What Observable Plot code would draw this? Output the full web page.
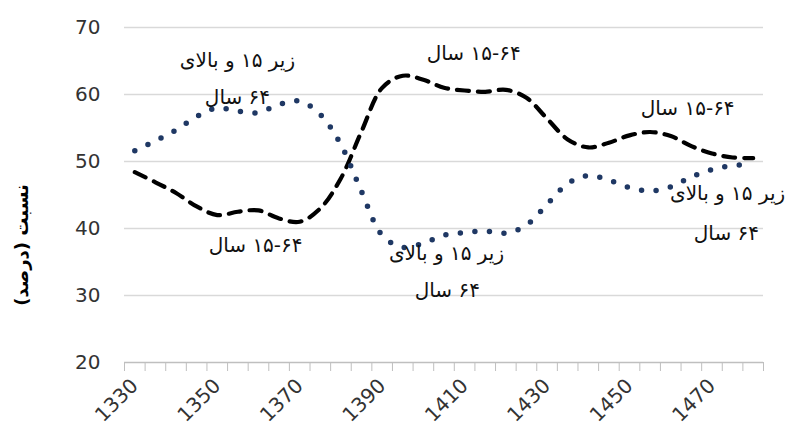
<!DOCTYPE html>
<html>
<head>
<meta charset="utf-8">
<script src="https://cdn.jsdelivr.net/npm/d3@7"></script>
<script src="https://cdn.jsdelivr.net/npm/@observablehq/plot@0.6"></script>
<style>
  html, body { margin: 0; padding: 0; background: #fff; }
  #chart { width: 787px; height: 434px; }
</style>
</head>
<body>
<div id="chart"></div>
<script>
// Categories (years, 5-year steps)
const years = [1330,1335,1340,1345,1350,1355,1360,1365,1370,1375,1380,1385,1390,1395,1400,1405,1410,1415,1420,1425,1430,1435,1440,1445,1450,1455,1460,1465,1470,1475,1480];
// Share of population aged 15-64 (percent)
const working = [48.4,46.9,45.3,43.3,42.0,42.5,42.7,41.5,41.0,43.0,47.5,54.5,61.0,62.8,62.2,61.0,60.6,60.4,60.7,59.5,56.4,53.3,52.1,52.8,53.9,54.4,53.8,52.3,51.2,50.6,50.5];
// Share of population under 15 and over 64 (percent)
const dependent = [51.6,53.1,54.7,56.7,58.0,57.5,57.3,58.5,59.0,57.0,52.5,45.5,39.0,37.2,37.8,39.0,39.4,39.6,39.3,40.5,43.6,46.7,47.9,47.2,46.1,45.6,46.2,47.7,48.8,49.4,49.5];
// Axis ticks and labels
const yTicks = [20,30,40,50,60,70];
const xLabels = [1330,1350,1370,1390,1410,1430,1450,1470];
const yTitle = "نسبت (درصد)";
// Annotation labels: text, anchor year, anchor percent
const labelText = ["زیر ۱۵ و بالای","۶۴ سال","۱۵-۶۴ سال","۱۵-۶۴ سال","زیر ۱۵ و بالای","۶۴ سال","۱۵-۶۴ سال","زیر ۱۵ و بالای","۶۴ سال"];
const labelYear = [1354.9,1354.9,1412.2,1464.1,1473.8,1473.5,1359.3,1405.6,1405.8];
const labelValue = [65.1,59.5,66.1,57.9,45.2,39.3,37.5,36.3,30.8];

const rowsW = years.map((yr, i) => ({year: yr, v: working[i]}));
const rowsD = years.map((yr, i) => ({year: yr, v: dependent[i]}));
const labels = labelText.map((t, i) => ({t, x: labelYear[i], y: labelValue[i]}));
const boundaries = years.map(y => y - 2.5).concat([years[years.length - 1] + 2.5]);

const chart = Plot.plot({
  width: 787,
  height: 434,
  marginLeft: 124,
  marginRight: 24,
  marginTop: 27,
  marginBottom: 72,
  x: {type: "linear", domain: [boundaries[0], boundaries[boundaries.length - 1]]},
  y: {domain: [20, 70]},
  style: {fontFamily: "'DejaVu Sans', sans-serif", fontSize: "20px", color: "#404040", background: "#fff"},
  marks: [
    Plot.gridY(yTicks.filter(d => d > 20), {stroke: "#d9d9d9", strokeOpacity: 1, strokeWidth: 1.3}),
    Plot.axisY({ticks: yTicks, tickSize: 0, tickPadding: 24, label: null, tickFormat: d => String(d), fontSize: 20, fill: "#333"}),
    Plot.ruleY([20], {stroke: "#bfbfbf", strokeWidth: 1.3}),
    Plot.axisX({ticks: boundaries, tickSize: 9, stroke: "#bfbfbf", tickFormat: () => "", label: null}),
    Plot.axisX({ticks: xLabels, tickSize: 0, tickPadding: 20, tickRotate: -45, label: null, tickFormat: d => String(d), fontSize: 20, fill: "#333"}),
    Plot.line(rowsW, {x: "year", y: "v", curve: "catmull-rom", stroke: "#000", strokeWidth: 4.2, strokeDasharray: "12 9", strokeLinecap: "round"}),
    Plot.line(rowsD, {x: "year", y: "v", curve: "catmull-rom", stroke: "#1f3864", strokeWidth: 5.5, strokeDasharray: "0 14.6", strokeLinecap: "round"}),
    Plot.text(labels, {x: "x", y: "y", text: "t", fontFamily: "'DejaVu Sans', sans-serif", fontSize: 20, fill: "#111", textAnchor: "middle"}),
    Plot.text([yTitle], {frameAnchor: "left", dx: -102, dy: 50, rotate: -90, textAnchor: "middle", fontFamily: "'DejaVu Sans', sans-serif", fontSize: 18, fontWeight: "bold", fill: "#000"})
  ]
});

d3.select(chart).selectAll("text").each(function() {
  if (/[\u0600-\u06FF]/.test(this.textContent)) this.setAttribute("direction", "rtl");
});
document.getElementById("chart").appendChild(chart);
</script>
</body>
</html>
